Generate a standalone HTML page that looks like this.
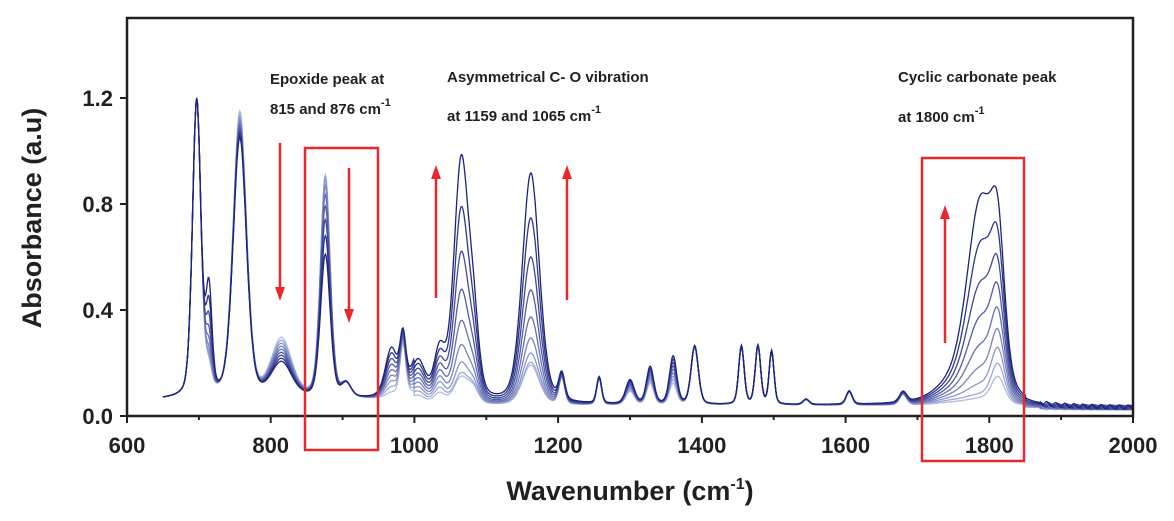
<!DOCTYPE html>
<html><head><meta charset="utf-8"><style>
html,body{margin:0;padding:0;background:#fff;width:1174px;height:521px;overflow:hidden}
svg text{font-family:"Liberation Sans",Arial,sans-serif;font-weight:bold;fill:#231f20}
</style></head><body>
<svg id="s" width="1174" height="521" xmlns="http://www.w3.org/2000/svg">
<g id="curves"></g>
<rect x="127" y="18" width="1006" height="398" fill="none" stroke="#231f20" stroke-width="2.5"/>
<g stroke="#231f20" stroke-width="2">
<line x1="127" y1="416" x2="127" y2="423"/><line x1="270.7" y1="416" x2="270.7" y2="423"/><line x1="414.4" y1="416" x2="414.4" y2="423"/><line x1="558.1" y1="416" x2="558.1" y2="423"/><line x1="701.9" y1="416" x2="701.9" y2="423"/><line x1="845.6" y1="416" x2="845.6" y2="423"/><line x1="989.3" y1="416" x2="989.3" y2="423"/><line x1="1133" y1="416" x2="1133" y2="423"/>
<line x1="198.9" y1="416" x2="198.9" y2="420"/><line x1="342.6" y1="416" x2="342.6" y2="420"/><line x1="486.3" y1="416" x2="486.3" y2="420"/><line x1="630" y1="416" x2="630" y2="420"/><line x1="773.7" y1="416" x2="773.7" y2="420"/><line x1="917.4" y1="416" x2="917.4" y2="420"/><line x1="1061.1" y1="416" x2="1061.1" y2="420"/>
<line x1="120" y1="416" x2="127" y2="416"/><line x1="120" y1="310" x2="127" y2="310"/><line x1="120" y1="204" x2="127" y2="204"/><line x1="120" y1="98" x2="127" y2="98"/>
</g>
<g font-size="22" text-anchor="end">
<text x="113" y="424">0.0</text><text x="113" y="318">0.4</text><text x="113" y="212">0.8</text><text x="113" y="106">1.2</text>
</g>
<g font-size="22" text-anchor="middle">
<text x="127" y="453">600</text><text x="270.7" y="453">800</text><text x="414.4" y="453">1000</text><text x="558.1" y="453">1200</text><text x="701.9" y="453">1400</text><text x="845.6" y="453">1600</text><text x="989.3" y="453">1800</text><text x="1133" y="453">2000</text>
</g>
<text x="630" y="500" font-size="27" text-anchor="middle">Wavenumber (cm<tspan font-size="16" dy="-11">-1</tspan><tspan dy="11">)</tspan></text>
<text transform="translate(41,218) rotate(-90)" font-size="27" text-anchor="middle">Absorbance (a.u)</text>
<g font-size="15">
<text x="270" y="84">Epoxide peak at</text>
<text x="270" y="114">815 and 876 cm<tspan font-size="11" dy="-8">-1</tspan></text>
<text x="447" y="82">Asymmetrical C- O vibration</text>
<text x="447" y="121">at 1159 and 1065 cm<tspan font-size="11" dy="-8">-1</tspan></text>
<text x="898" y="82">Cyclic carbonate peak</text>
<text x="898" y="122">at 1800 cm<tspan font-size="11" dy="-8">-1</tspan></text>
</g>
<g fill="none" stroke="#e8282c" stroke-width="2.5">
<rect x="305" y="148" width="73" height="302"/>
<rect x="922" y="158" width="102" height="303"/>
<line x1="280" y1="143" x2="280" y2="288"/><line x1="349" y1="168" x2="349" y2="310"/>
<line x1="436" y1="298" x2="436" y2="178"/><line x1="567" y1="300" x2="567" y2="178"/>
<line x1="945" y1="343" x2="945" y2="218"/>
</g>
<g fill="#e8282c">
<polygon points="275,287 285,287 280,301"/><polygon points="344,309 354,309 349,323"/>
<polygon points="431,179 441,179 436,165"/><polygon points="562,179 572,179 567,165"/>
<polygon points="940,219 950,219 945,205"/>
</g>
</svg>
<script>
function pv(x,c,h,w){var d=(x-c)/w;return h*(0.7*Math.exp(-0.693*d*d)+0.3/(1+d*d));}
var N=9,g=document.getElementById('curves'),out='';
function col(t){var a=[176,188,230],b=[26,35,126];return 'rgb('+a.map(function(v,i){return Math.round(v+(b[i]-v)*t)}).join(',')+')';}
for(var k=0;k<N;k++){var t=k/(N-1);var tt=t*t;
var P=[[697,1.12,7],[757,1.08-0.1*t,11],[714,0.08+0.3*tt,5],[815,0.22-0.09*t,17],[876,0.84-0.3*tt,8],[905,0.05,8],
[984,0.2,5],[968,0.02+0.16*t,10],[1005,0.03+0.12*t,12],[1035,0.04+0.14*t,9],[1065,0.1+0.8*tt,12],[1082,0.05+0.2*tt,9],
[1162,0.15+0.72*tt,14],[1205,0.1,5],[1257,0.1,4],[1300,0.05+0.04*t,7],[1328,0.08+0.06*t,6],[1360,0.08+0.1*t,6],[1390,0.22,6],
[1455,0.22,4.5],[1478,0.22,4.5],[1497,0.2,4],[1545,0.02,5],[1605,0.05,5],[1680,0.04,6],
[1788,0.02+0.72*tt,22],[1812,0.1+0.35*t,11],[1750,0.01+0.05*t,30]];
var d='';for(var x=650;x<=2000;x+=1){var y=0.04+(x<1000?0.02:0)-(x>1850?0.01:0);for(var i=0;i<P.length;i++)y+=pv(x,P[i][0],P[i][1],P[i][2]);
if(x>1870)y+=0.008*Math.sin(x*0.5+k*1.3);
var px=127+(x-600)*0.7186,py=416-y*265;if(py>415)py=415;d+=(x==650?'M':'L')+px.toFixed(1)+','+py.toFixed(1);}
out+='<path d="'+d+'" fill="none" stroke="'+col(t)+'" stroke-width="1.3"/>';}
g.innerHTML=out;
</script>
</body></html>
